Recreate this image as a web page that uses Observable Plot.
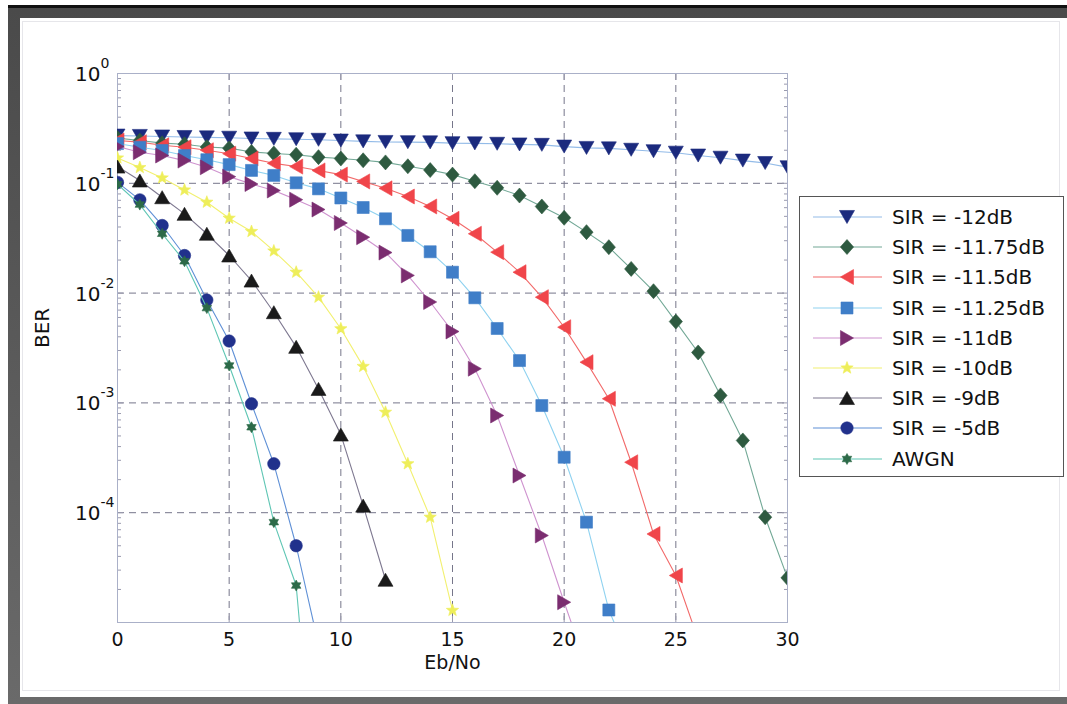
<!DOCTYPE html>
<html>
<head>
<meta charset="utf-8">
<script src="https://cdn.jsdelivr.net/npm/d3@7"></script>
<script src="https://cdn.jsdelivr.net/npm/@observablehq/plot@0.6"></script>
<style>
html,body{margin:0;padding:0;background:#fff;width:1067px;height:704px;overflow:hidden;font-family:"DejaVu Sans",sans-serif;}
#outer{position:absolute;left:8px;top:5px;width:1059px;height:699px;background:linear-gradient(180deg,#4a4a4a,#6a6a6a);border-top:3px solid #111;box-sizing:border-box;}
#inner{position:absolute;left:20px;top:18px;width:1047px;height:679px;background:#fff;}
#panel{position:absolute;left:22px;top:21px;width:1036px;height:668px;border:1px solid #e6e6ea;}
#chart{position:absolute;left:0;top:0;}
#legend{position:absolute;left:799px;top:196px;width:265px;height:281px;border:1px solid #555;background:#fff;box-sizing:border-box;}
.row{position:absolute;left:0;height:30px;width:263px;}
.row svg{position:absolute;left:13px;top:0;}
.row span{position:absolute;left:92px;top:0;line-height:30px;font-size:20px;color:#111;white-space:nowrap;}
</style>
</head>
<body>
<div id="outer"></div>
<div id="inner"></div>
<div id="panel"></div>
<div id="chart"></div>
<div id="legend"></div>
<script>
// ---------- data ----------
const seriesNames = ["SIR = -12dB", "SIR = -11.75dB", "SIR = -11.5dB", "SIR = -11.25dB", "SIR = -11dB", "SIR = -10dB", "SIR = -9dB", "SIR = -5dB", "AWGN"];
// BER values at Eb/No = 0, 1, 2, ... dB (last value of some series lies below the axis and is clipped)
const berSIRm12 = [0.272, 0.270, 0.267, 0.264, 0.262, 0.260, 0.256, 0.254, 0.252, 0.249, 0.245, 0.241, 0.238, 0.237, 0.236, 0.232, 0.231, 0.229, 0.226, 0.224, 0.216, 0.210, 0.208, 0.202, 0.196, 0.190, 0.179, 0.171, 0.161, 0.153, 0.140];
const berSIRm1175 = [0.258, 0.245, 0.232, 0.227, 0.214, 0.209, 0.193, 0.187, 0.182, 0.173, 0.168, 0.162, 0.155, 0.143, 0.132, 0.120, 0.1045, 0.091, 0.0774, 0.0615, 0.0485, 0.0359, 0.0262, 0.0166, 0.0104, 0.0055, 0.00288, 0.00117, 0.000455, 0.000091, 0.0000255];
const berSIRm115 = [0.245, 0.237, 0.222, 0.213, 0.200, 0.186, 0.168, 0.152, 0.142, 0.131, 0.120, 0.104, 0.090, 0.0758, 0.0615, 0.0475, 0.0347, 0.0236, 0.0155, 0.00918, 0.00489, 0.00235, 0.00109, 0.000288, 0.000064, 0.0000268, 0.000007];
const berSIRm1125 = [0.230, 0.213, 0.199, 0.179, 0.164, 0.148, 0.131, 0.118, 0.101, 0.089, 0.0735, 0.0602, 0.0475, 0.0335, 0.0238, 0.0155, 0.00906, 0.00476, 0.00243, 0.000946, 0.00032, 0.000082, 0.000013, 0.0000043];
const berSIRm11 = [0.216, 0.192, 0.179, 0.161, 0.140, 0.115, 0.0985, 0.086, 0.071, 0.0577, 0.0435, 0.0323, 0.0234, 0.0145, 0.0083, 0.00447, 0.00205, 0.000768, 0.000218, 0.000062, 0.0000153, 0.000004];
const berSIRm10 = [0.170, 0.139, 0.112, 0.0869, 0.0673, 0.0481, 0.0364, 0.0242, 0.0155, 0.00918, 0.00473, 0.00215, 0.000822, 0.000279, 0.000091, 0.0000129];
const berSIRm9 = [0.142, 0.106, 0.0747, 0.0527, 0.0347, 0.0220, 0.0130, 0.0067, 0.00324, 0.00134, 0.000515, 0.000116, 0.0000245];
const berSIRm5 = [0.102, 0.0707, 0.0413, 0.0220, 0.00865, 0.00366, 0.000982, 0.000279, 0.000050, 0.0000063];
const berAWGN = [0.098, 0.064, 0.0347, 0.0195, 0.0073, 0.00219, 0.0006, 0.000082, 0.0000217, 0.00000012];
const berSeries = [berSIRm12, berSIRm1175, berSIRm115, berSIRm1125, berSIRm11, berSIRm10, berSIRm9, berSIRm5, berAWGN];

const xTicks = [0, 5, 10, 15, 20, 25, 30];
const yTicks = [1, 0.1, 0.01, 0.001, 0.0001];
const yTickExponents = ["0", "-1", "-2", "-3", "-4"];
const xLabel = "Eb/No";
const yLabel = "BER";

// ---------- marker shapes ----------
function poly(pts) {
  return {draw(ctx, size) {
    const R = Math.sqrt(size / Math.PI);
    pts.forEach(([px, py], i) => i ? ctx.lineTo(px * R, py * R) : ctx.moveTo(px * R, py * R));
    ctx.closePath();
  }};
}
function star(n, inner) {
  const pts = [];
  for (let i = 0; i < 2 * n; i++) {
    const a = -Math.PI / 2 + i * Math.PI / n;
    const rr = i % 2 ? inner : 1;
    pts.push([rr * Math.cos(a), rr * Math.sin(a)]);
  }
  return poly(pts);
}
const symTriDown = poly([[-1, -0.87], [1, -0.87], [0, 0.87]]);
const symTriUp = poly([[-1, 0.87], [1, 0.87], [0, -0.87]]);
const symTriLeft = poly([[0.87, -1], [0.87, 1], [-0.87, 0]]);
const symTriRight = poly([[-0.87, -1], [-0.87, 1], [0.87, 0]]);
const symDiamond = poly([[0, -1], [0.88, 0], [0, 1], [-0.88, 0]]);
const symSquare = poly([[-1, -1], [1, -1], [1, 1], [-1, 1]]);
const symCircle = {draw(ctx, size) { const R = Math.sqrt(size / Math.PI); ctx.moveTo(R, 0); ctx.arc(0, 0, R, 0, 2 * Math.PI); }};
const symPentagram = star(5, 0.42);
const symHexagram = star(6, 0.58);

const styles = [
  {sym: symTriDown, r: 7.5, fill: "#1b2a7e", line: "#93bbe8"},
  {sym: symDiamond, r: 7.5, fill: "#2e5a40", line: "#72a896"},
  {sym: symTriLeft, r: 7.5, fill: "#f0454a", line: "#f26a6a"},
  {sym: symSquare, r: 6, fill: "#3f7ec8", line: "#8fd2f0"},
  {sym: symTriRight, r: 7.5, fill: "#7b2d70", line: "#cf93cf"},
  {sym: symPentagram, r: 6.5, fill: "#eeee5a", line: "#f2f070"},
  {sym: symTriUp, r: 7.5, fill: "#1a1a1a", line: "#7e7890"},
  {sym: symCircle, r: 6.2, fill: "#21318c", line: "#5f90d6"},
  {sym: symHexagram, r: 5.5, fill: "#2c6a48", line: "#5fc6b4"}
];

const tables = berSeries.map(vals => vals.map((v, i) => ({x: i, y: v})));

const minorTicks = [];
for (let k = -5; k <= -1; k++) for (let m = 2; m <= 9; m++) minorTicks.push(m * Math.pow(10, k));

const gridStyle = {stroke: "#76768a", strokeDasharray: "7,5", strokeWidth: 1};
const marks = [
  Plot.ruleX(xTicks.slice(1, -1), gridStyle),
  Plot.ruleY(yTicks.slice(1), gridStyle),
  Plot.axisY(minorTicks, {anchor: "left", tickSize: -4, tickFormat: () => "", label: null, stroke: "#9a9aae"}),
  Plot.axisY(minorTicks, {anchor: "right", tickSize: -4, tickFormat: () => "", label: null, stroke: "#9a9aae"}),
  Plot.axisY(yTicks, {anchor: "left", tickSize: -6, tickFormat: () => "", label: null, stroke: "#9a9aae"}),
  Plot.axisY(yTicks, {anchor: "right", tickSize: -6, tickFormat: () => "", label: null, stroke: "#9a9aae"}),
  Plot.axisX(xTicks, {anchor: "top", tickSize: -6, tickFormat: () => "", label: null, stroke: "#9a9aae"}),
  Plot.axisX(xTicks, {anchor: "bottom", tickSize: 0, tickFormat: () => "", label: null, stroke: "#9a9aae"}),
  Plot.axisX(xTicks, {anchor: "bottom", tickSize: -6, tickFormat: () => "", label: null, stroke: "#9a9aae"}),
  Plot.axisX(xTicks, {anchor: "bottom", tickSize: 0, tickPadding: 10, label: null, fontSize: 19, fill: "#111"}),
  Plot.text(yTicks, {y: d => d, text: () => "10", frameAnchor: "left", textAnchor: "end", dx: -17, dy: 1, fontSize: 20, fill: "#111"}),
  Plot.text(yTicks, {y: d => d, text: (d, i) => yTickExponents[i], frameAnchor: "left", textAnchor: "start", dx: -17, dy: -10, fontSize: 14, fill: "#111"}),
  Plot.text([xLabel], {text: d => d, frameAnchor: "bottom", dy: 46, fontSize: 19, fill: "#111"}),
  Plot.text([yLabel], {text: d => d, frameAnchor: "left", rotate: -90, dx: -75, fontSize: 20, fill: "#111"}),
  Plot.frame({stroke: "#aab0c8", strokeWidth: 1})
];
tables.forEach((t, i) => {
  const s = styles[i];
  marks.push(Plot.line(t, {x: "x", y: "y", stroke: s.line, strokeWidth: 1.1, clip: true}));
  marks.push(Plot.dot(t, {x: "x", y: "y", symbol: s.sym, r: s.r, fill: s.fill, stroke: s.fill, strokeWidth: 0.6, clip: true}));
});

const chart = Plot.plot({
  width: 1067,
  height: 704,
  marginLeft: 117,
  marginRight: 280,
  marginTop: 73,
  marginBottom: 82,
  style: {background: "transparent", fontFamily: "DejaVu Sans, sans-serif", fontSize: "20px", overflow: "visible"},
  x: {domain: [0, 30], axis: null},
  y: {type: "log", domain: [1e-5, 1], axis: null},
  marks
});
document.getElementById("chart").appendChild(chart);

// ---------- legend ----------
const legend = d3.select("#legend");
seriesNames.forEach((name, i) => {
  const s = styles[i];
  const row = legend.append("div").attr("class", "row").style("top", (5 + i * 30.2) + "px");
  const svg = row.append("svg").attr("width", 72).attr("height", 30);
  svg.append("line").attr("x1", 0).attr("x2", 69).attr("y1", 15).attr("y2", 15).attr("stroke", s.line).attr("stroke-width", 1.1);
  svg.append("path").attr("transform", "translate(34,15)")
    .attr("d", d3.symbol(s.sym, s.r * s.r * Math.PI)())
    .attr("fill", s.fill).attr("stroke", s.fill).attr("stroke-width", 0.6);
  row.append("span").text(name);
});
</script>
</body>
</html>
